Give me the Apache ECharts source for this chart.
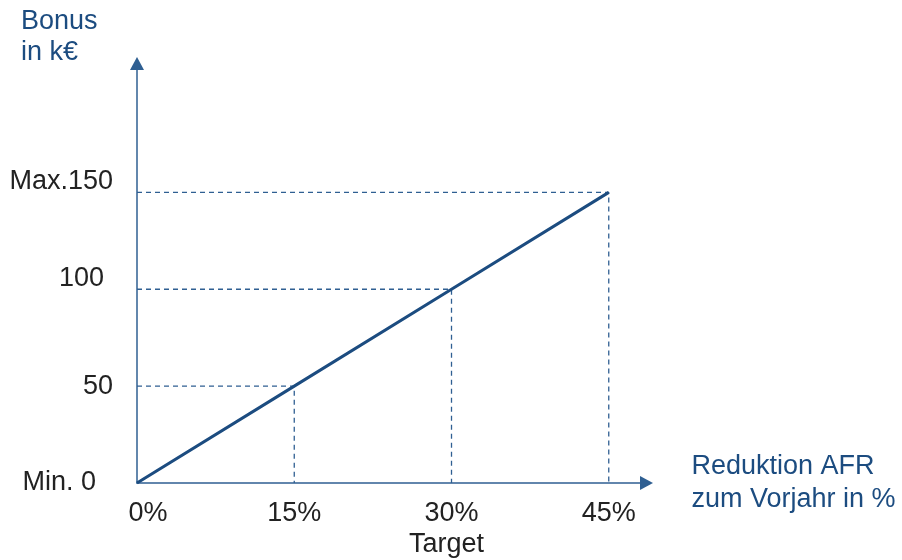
<!DOCTYPE html>
<html>
<head>
<meta charset="utf-8">
<script src="https://cdn.jsdelivr.net/npm/echarts@6/dist/echarts.min.js"></script>
<style>
  html, body { margin: 0; padding: 0; background: #fff; }
  #chart { width: 902px; height: 560px; }
</style>
</head>
<body>
<div id="chart"></div>
<script>
// reduction vs. previous year (%) and bonus (k€)
const reduction = [0, 15, 30, 45]
const bonus = [0, 50, 100, 150]
const xLabels = ['0%', '15%', '30%\nTarget', '45%']
const yLabels = ['Min. 0', '50', '100', 'Max.150']

const BLUE = '#1c4c80'
const AXIS = '#2f5f92'
const TEXT = '#222222'
const FONT = "'Liberation Sans', Arial, sans-serif"
const FS = 27

const chart = echarts.init(document.getElementById('chart'), null, { renderer: 'canvas' })

// dashed guides: from y axis to the point, then down to the x axis
const guides = reduction.slice(1).map((x, i) => ({
  type: 'line',
  data: [[0, bonus[i + 1]], [x, bonus[i + 1]], [x, 0]],
  symbol: 'none',
  silent: true,
  z: 1,
  lineStyle: { color: AXIS, width: 1.3, type: [5, 4] }
}))

const txt = extra => Object.assign({ fontSize: FS, color: TEXT, fontFamily: FONT }, extra)

const option = {
  backgroundColor: '#fff',
  animation: false,
  title: {
    text: 'Bonus\nin k€',
    left: 21, top: 6, padding: 0,
    textStyle: { color: BLUE, fontSize: FS, fontWeight: 'normal', fontFamily: FONT, lineHeight: 31 }
  },
  grid: { left: 137, right: 255.5, top: 63.5, bottom: 77, outerBoundsMode: 'none' },
  xAxis: {
    type: 'value', min: 0, max: 48.6, interval: 15,
    name: 'Reduktion AFR\nzum Vorjahr in %',
    nameLocation: 'end', nameGap: 45,
    nameTextStyle: { color: BLUE, fontSize: FS, fontFamily: FONT, lineHeight: 33, align: 'left', verticalAlign: 'middle' },
    axisLine: { lineStyle: { color: AXIS, width: 1.5 }, symbol: ['none', 'triangle'], symbolSize: [14, 13] },
    axisTick: { show: false },
    splitLine: { show: false },
    axisLabel: {
      margin: 15, color: TEXT, fontSize: FS, fontFamily: FONT, lineHeight: 31,
      formatter: v => {
        const i = reduction.indexOf(v)
        if (i < 0) return ''
        return xLabels[i].split('\n').map((s, j) => `{x${i}${j}|${s}}`).join('\n')
      },
      rich: {
        x00: txt({ padding: [0, 0, 0, 22], lineHeight: 31 }),
        x10: txt({ lineHeight: 31 }),
        x20: txt({ lineHeight: 31 }),
        x21: txt({ padding: [0, 10, 0, 0], lineHeight: 31 }),
        x30: txt({ lineHeight: 31 })
      }
    }
  },
  yAxis: {
    type: 'value', min: 0, max: 216.5, interval: 50,
    axisLine: { show: true, lineStyle: { color: AXIS, width: 1.5 }, symbol: ['none', 'triangle'], symbolSize: [14, 13] },
    axisTick: { show: false },
    splitLine: { show: false },
    axisLabel: {
      margin: 24, color: TEXT, fontSize: FS, fontFamily: FONT,
      formatter: v => {
        const i = bonus.indexOf(v)
        return i < 0 ? '' : `{y${i}|${yLabels[i]}}`
      },
      rich: {
        y0: txt({ padding: [0, 17, 0, 0] }),
        y1: txt({}),
        y2: txt({ padding: [0, 9, 22, 0] }),
        y3: txt({ padding: [0, 0, 22, 0] })
      }
    }
  },
  series: [
    ...guides,
    {
      type: 'line',
      data: reduction.map((x, i) => [x, bonus[i]]),
      symbol: 'none',
      z: 3,
      lineStyle: { color: BLUE, width: 3 }
    }
  ]
}

chart.setOption(option)
</script>
</body>
</html>
